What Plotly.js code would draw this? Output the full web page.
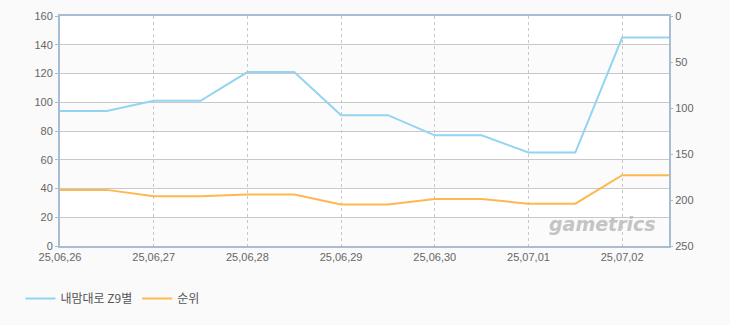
<!DOCTYPE html>
<html>
<head>
<meta charset="utf-8">
<script src="https://cdn.plot.ly/plotly-3.0.1.min.js"></script>
<style>html,body{margin:0;padding:0;background:#fafafa;}</style>
</head>
<body>
<div id="chart" style="width:730px;height:325px;"></div>
<script>
const times = ["2025-06-26 00:00","2025-06-26 12:00","2025-06-27 00:00","2025-06-27 12:00",
  "2025-06-28 00:00","2025-06-28 12:00","2025-06-29 00:00","2025-06-29 12:00",
  "2025-06-30 00:00","2025-06-30 12:00","2025-07-01 00:00","2025-07-01 12:00",
  "2025-07-02 00:00","2025-07-02 12:00"];
const seriesA = [94,94,101,101,121,121,91,91,77,77,65,65,145,145];
const seriesB = [189,189,196,196,194,194,205,205,199,199,204,204,173,173];
const nameA = "내맘대로 Z9별";
const nameB = "순위";
const leftTicks = [0,20,40,60,80,100,120,140,160];
const rightTicks = [0,50,100,150,200,250];

const bands = [];
for (let i = 0; i < leftTicks.length - 1; i += 2) {
  bands.push({type:'rect', xref:'paper', yref:'y', x0:0, x1:1, y0:leftTicks[i], y1:leftTicks[i+1],
    fillcolor:'#fbfbfb', line:{width:0}, layer:'below'});
}

const tickFont = {family:'"Liberation Sans", Arial, sans-serif', size:11, color:'#666'};
const data = [
  {x:times, y:seriesA, name:nameA, type:'scatter', mode:'lines', yaxis:'y',
   line:{color:'#94d3f2', width:2}},
  {x:times, y:seriesB, name:nameB, type:'scatter', mode:'lines', yaxis:'y2',
   line:{color:'#fdb94f', width:2}}
];
const layout = {
  width:730, height:325,
  margin:{l:60, r:61, t:16, b:77},
  paper_bgcolor:'#fafafa', plot_bgcolor:'#ffffff',
  showlegend:true,
  legend:{orientation:'h', x:-0.065, xanchor:'left', y:-0.165, yanchor:'top',
    itemwidth:30, font:{family:'"Noto Sans CJK KR", sans-serif', size:12, color:'#555'},
    bgcolor:'rgba(0,0,0,0)'},
  xaxis:{type:'date', range:["2025-06-26 00:00","2025-07-02 12:00"],
    tick0:"2025-06-26", dtick:86400000, tickformat:'%y,%m,%d',
    showgrid:true, gridcolor:'#c8c8c8', griddash:'3px,3px', gridwidth:1,
    showline:true, linecolor:'#a9bcd2', linewidth:2, mirror:true,
    ticks:'', tickfont:tickFont, zeroline:false},
  yaxis:{range:[0,160], tickvals:leftTicks, showgrid:true, gridcolor:'#c8c8c8', gridwidth:1,
    showline:true, linecolor:'#a9bcd2', linewidth:2, mirror:true,
    ticks:'outside', ticklen:3, tickcolor:'#a9bcd2', tickfont:tickFont, zeroline:false},
  yaxis2:{overlaying:'y', side:'right', range:[250,0], tickvals:rightTicks,
    showgrid:false, showline:false, ticks:'outside', ticklen:3, tickcolor:'#a9bcd2',
    tickfont:tickFont, zeroline:false},
  shapes:bands,
  annotations:[{xref:'paper', yref:'paper', x:0.982, y:0.04, xanchor:'right', yanchor:'bottom',
    text:'<b><i>gametrics</i></b>', showarrow:false,
    font:{family:'"DejaVu Sans", sans-serif', size:19, color:'#c4c4c4'}}]
};
Plotly.newPlot('chart', data, layout, {displayModeBar:false, staticPlot:true});
</script>
</body>
</html>
